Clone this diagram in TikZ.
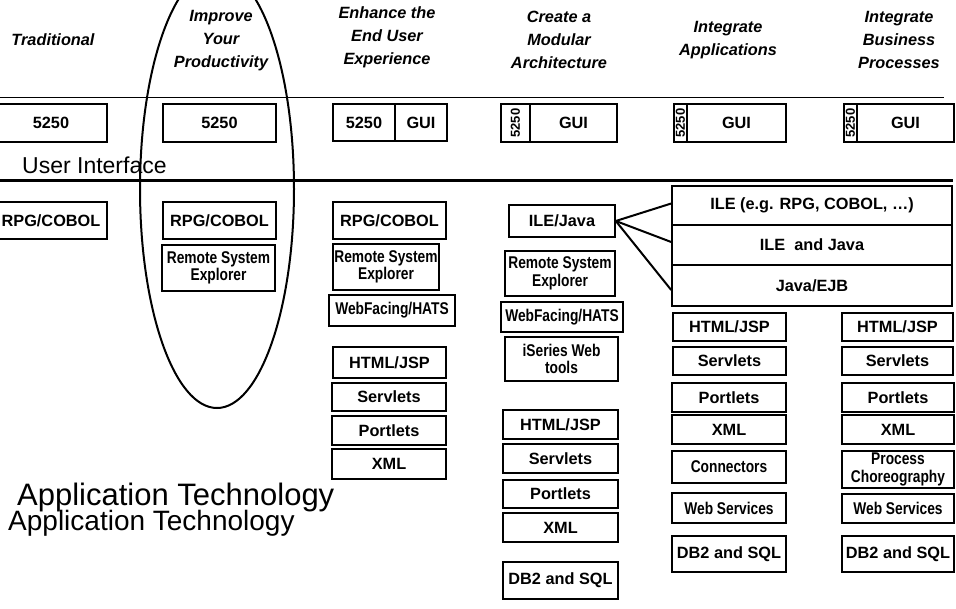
\documentclass[tikz,border=0pt]{standalone}
\usepackage{fontspec}
\setmainfont{Liberation Sans}
\newfontfamily\narrowfont[FakeStretch=0.81]{Liberation Sans}
\tikzset{
  box/.style={draw, line width=1.6pt, inner sep=0pt, align=center,
    font=\bfseries\fontsize{16.3}{17}\selectfont},
  nbox/.style={box, font=\narrowfont\bfseries\fontsize{17}{17.5}\selectfont},
  head/.style={align=center, inner sep=0pt, font=\bfseries\itshape\fontsize{16.3}{23}\selectfont},
  vtext/.style={rotate=90, inner sep=0pt, font=\bfseries\fontsize{13}{13}\selectfont},
  link/.style={line width=2pt},
}
\newcommand\bx[7][box]{\node[#1, minimum width={(#5)-(#3)}, minimum height={(#6)-(#4)}] (#2) at ({((#3)+(#5))/2},{((#4)+(#6))/2}) {#7};}
\begin{document}
\begin{tikzpicture}[x=1pt,y=-1pt]
\useasboundingbox (0,0) rectangle (956,608);
\clip (0,0) rectangle (956,608);
% headers
\node[head] (h1) at (53,40) {Traditional};
\node[head] (h2) at (221,40.5) {Improve\\Your\\Productivity};
\node[head] (h3) at (387,37) {Enhance the\\End User\\Experience};
\node[head] (h4) at (559,40) {Create a\\Modular\\Architecture};
\node[head] (h5) at (728,40) {Integrate\\Applications};
\node[head] (h6) at (899,40) {Integrate\\Business\\Processes};
% rules
\draw[line width=1.5pt] (0,97.5) -- (944,97.5);
\draw[line width=3pt] (0,180) -- (953,180);
% user interface row
\bx{u1}{-5}{104}{107}{142}{5250}
\bx{u2}{163}{104}{276}{142}{5250}
\bx{u3a}{333}{104}{395}{141}{5250}
\bx{u3b}{395}{104}{447}{141}{GUI}
\bx{u4a}{501}{104}{530}{142}{}
\node[vtext] (u4t) at (u4a.center) {5250};
\bx{u4b}{530}{104}{617}{142}{GUI}
\bx{u5a}{674}{104}{687}{142}{}
\node[vtext] (u5t) at (u5a.center) {5250};
\bx{u5b}{687}{104}{786}{142}{GUI}
\bx{u6a}{844}{104}{857}{142}{}
\node[vtext] (u6t) at (u6a.center) {5250};
\bx{u6b}{857}{104}{954}{142}{GUI}
\node[anchor=base west, inner sep=0pt, font=\fontsize{23}{23}\selectfont] (ui) at (22,173) {User Interface};
% column 1
\bx{a1}{-5}{202}{107}{239}{RPG/COBOL}
% column 2
\bx{a2r}{163}{202}{276}{239}{RPG/COBOL}
\bx[nbox]{a2s}{162}{245}{275}{291}{Remote System\\Explorer}
% column 3
\bx{a3r}{333}{202}{446}{239}{RPG/COBOL}
\bx[nbox]{a3s}{333}{244}{439}{290}{Remote System\\Explorer}
\bx[nbox]{a3w}{329}{295}{455}{326}{WebFacing/HATS}
\bx{a3h}{333}{347}{446}{378}{HTML/JSP}
\bx{a3v}{332}{383}{446}{411}{Servlets}
\bx{a3p}{332}{416}{446}{445}{Portlets}
\bx{a3x}{332}{449}{446}{479}{XML}
% column 4
\bx{ile}{509}{205}{615}{237}{ILE/Java}
\bx[nbox]{a4s}{505}{251}{615}{296}{Remote System\\Explorer}
\bx[nbox]{a4w}{501}{302}{623}{332}{WebFacing/HATS}
\bx[nbox]{a4i}{505}{337}{618}{381}{iSeries Web\\tools}
\bx{a4h}{503}{410}{618}{439}{HTML/JSP}
\bx{a4v}{503}{444}{618}{473}{Servlets}
\bx{a4p}{503}{480}{618}{508}{Portlets}
\bx{a4x}{503}{513}{618}{542}{XML}
\bx{a4d}{503}{562}{618}{599}{DB2 and SQL}
% big box
\bx{b1}{672}{186}{952}{225}{ILE (e.g. RPG, COBOL, …)}
\bx{b2}{672}{225}{952}{265}{ILE\ \ and Java}
\bx{b3}{672}{265}{952}{306}{Java/EJB}
\draw[link] (ile.east) -- ([yshift=2pt]b1.west);
\draw[link] (ile.east) -- ([yshift=3pt]b2.west);
\draw[link] (ile.east) -- ([yshift=-4.5pt]b3.west);
% column 5
\bx{a5h}{673}{313}{786}{341}{HTML/JSP}
\bx{a5v}{673}{347}{786}{375}{Servlets}
\bx{a5p}{672}{383}{786}{412}{Portlets}
\bx{a5x}{672}{415}{786}{444}{XML}
\bx[nbox]{a5c}{672}{451}{786}{483}{Connectors}
\bx[nbox]{a5w}{672}{493}{786}{523}{Web Services}
\bx{a5d}{672}{536}{786}{572}{DB2 and SQL}
% column 6
\bx{a6h}{842}{313}{953}{341}{HTML/JSP}
\bx{a6v}{842}{347}{953}{375}{Servlets}
\bx{a6p}{842}{383}{954}{412}{Portlets}
\bx{a6x}{842}{415}{954}{444}{XML}
\bx[nbox]{a6c}{842}{451}{954}{488}{Process\\Choreography}
\bx[nbox]{a6w}{842}{494}{954}{523}{Web Services}
\bx{a6d}{842}{536}{954}{572}{DB2 and SQL}
% application technology labels
\node[anchor=base west, inner sep=0pt, font=\fontsize{31}{31}\selectfont] (at1) at (17,505) {Application Technology};
\node[anchor=base west, inner sep=0pt, font=\fontsize{28}{28}\selectfont] (at2) at (8,530) {Application Technology};
% ellipse
\draw[line width=2pt] (217,189) ellipse [x radius=77, y radius=219];
\end{tikzpicture}
\end{document}
